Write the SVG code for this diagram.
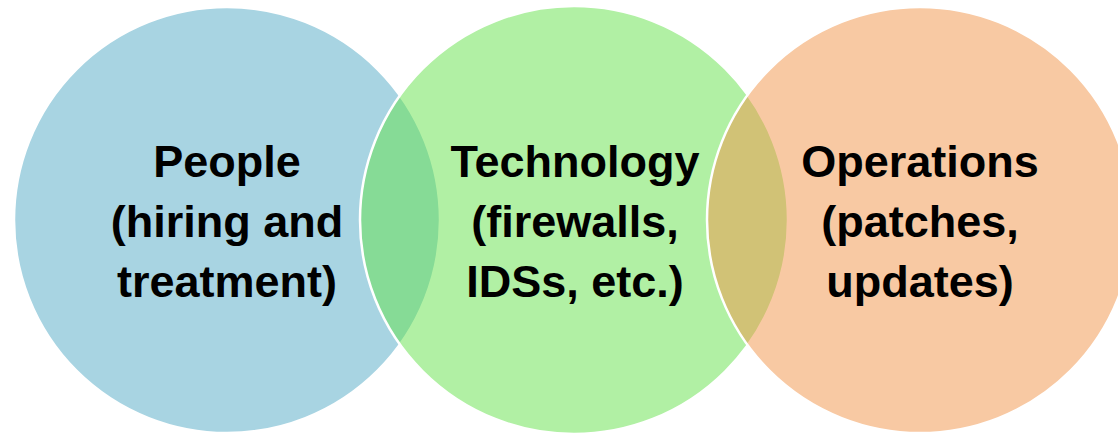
<svg xmlns="http://www.w3.org/2000/svg" width="1118" height="436" viewBox="0 0 1118 436">
  <style>
    .ring { stroke: #ffffff; stroke-width: 2.5; fill-opacity: 0.5; }
    .label { font-family: "Liberation Sans", Arial, sans-serif; font-weight: bold; font-size: 45px; fill: #000000; text-anchor: middle; }
  </style>
  <rect width="1118" height="436" fill="#ffffff"/>
  <!-- Three overlapping sets, each half transparent so the overlaps blend -->
  <g id="people">
    <circle class="ring" cx="227" cy="220" r="213" fill="#51a9c5"/>
  </g>
  <g id="technology">
    <circle class="ring" cx="574" cy="220" r="214" fill="#63e149"/>
  </g>
  <g id="operations">
    <circle class="ring" cx="920" cy="220" r="213" fill="#f19347"/>
  </g>
  <g id="labels">
    <text class="label" x="227" y="177">People</text>
    <text class="label" x="227" y="237">(hiring and</text>
    <text class="label" x="227" y="297">treatment)</text>
    <text class="label" x="575" y="177">Technology</text>
    <text class="label" x="575" y="237">(firewalls,</text>
    <text class="label" x="575" y="297">IDSs, etc.)</text>
    <text class="label" x="920" y="177">Operations</text>
    <text class="label" x="920" y="237">(patches,</text>
    <text class="label" x="920" y="297">updates)</text>
  </g>
</svg>
